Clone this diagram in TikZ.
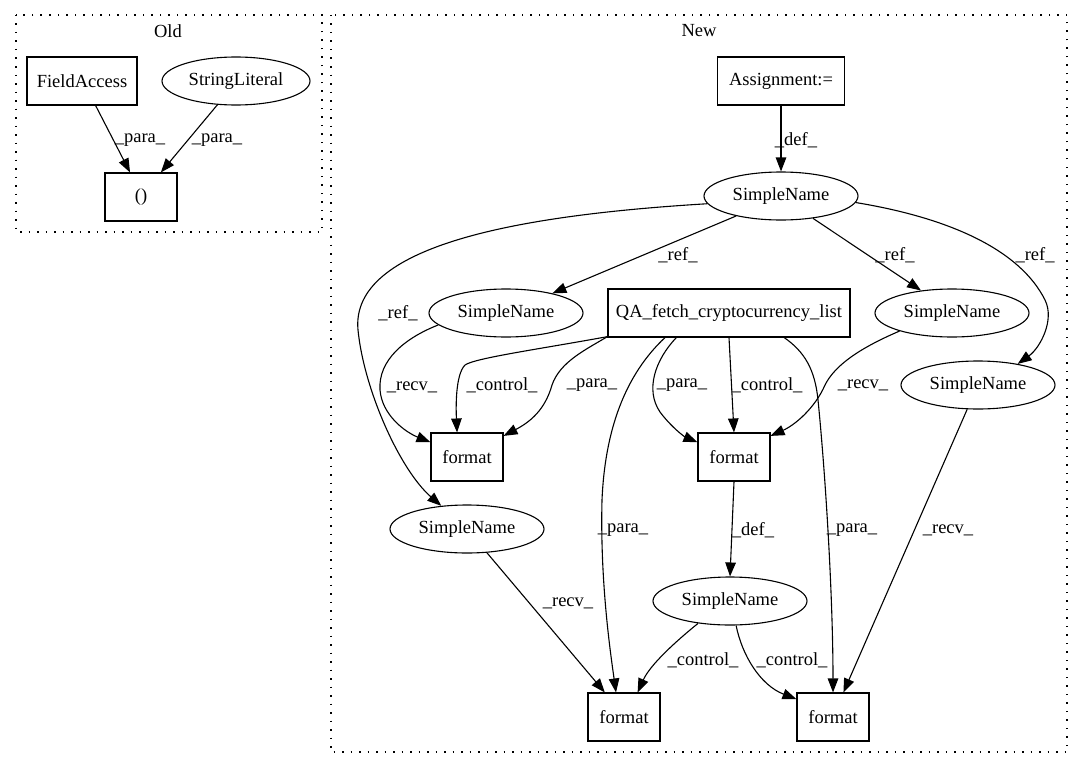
\documentclass[tikz,border=0pt]{standalone}
\usepackage{fontspec}
\setmainfont{Liberation Serif}
\usetikzlibrary{arrows.meta,shapes.geometric}
\begin{document}
\begin{tikzpicture}[x=1pt,y=-1pt,
  every node/.style={font=\fontsize{18.5}{20}\selectfont, inner sep=0},
  box/.style={draw, rectangle, minimum height=48, line width=1.1pt},
  ell/.style={draw, ellipse, minimum width=154, minimum height=48, line width=1.1pt},
  lbl/.style={},
  edge/.style={line width=1.1pt, -{Triangle[length=14pt,width=10.5pt]}},
  cluster/.style={line width=1.2pt, dash pattern=on 1.5pt off 7pt}]
\useasboundingbox (0,0) rectangle (1083,768);
% clusters
\draw[cluster] (16,15) rectangle (322,232);
\draw[cluster] (331,15) rectangle (1067,752);
\node (oldt) at (168,31) {Old};
\node (newt) at (699,31) {New};
% Old nodes
\node[box, minimum width=110] (FA) at (82,81) {FieldAccess};
\node[ell, minimum width=148] (SL) at (236,81) {StringLiteral};
\node[box, minimum width=72] (P) at (141,197) {()};
% New nodes
\node[box, minimum width=127] (AS) at (781,81) {Assignment:=};
\node[ell] (A) at (781,196) {SimpleName};
\node[ell] (B) at (506,313) {SimpleName};
\node[box, minimum width=242] (QA) at (729,313) {QA\_fetch\_cryptocurrency\_list};
\node[ell] (C) at (952,313) {SimpleName};
\node[ell] (D) at (978,385) {SimpleName};
\node[box, minimum width=72] (F1) at (467,457) {format};
\node[box, minimum width=72] (F2) at (734,457) {format};
\node[ell] (E) at (467,529) {SimpleName};
\node[ell] (F) at (730,601) {SimpleName};
\node[box, minimum width=72] (F3) at (624,717) {format};
\node[box, minimum width=72] (F4) at (833,717) {format};
% Old edges
\draw[edge] (FA.-61.6) -- (P.114.6);
\draw[edge] (SL.-128) -- (P.51.6);
\node[lbl] (l1) at (140,140) {\_para\_};
\node[lbl] (l2) at (217,140) {\_para\_};
% New edges
\draw[edge] (AS.south) -- (A.north);
\node[lbl] (l3) at (796,140) {\_def\_};
\draw[edge] (A.204.5) -- (B.23.5);
\node[lbl] (l4) at (678,255) {\_ref\_};
\draw[edge] (A.-35.7) -- (C.144);
\node[lbl] (l5) at (895,255) {\_ref\_};
\draw[edge] (A.-5.2) .. controls (950,218) and (1020,250) .. (1045,300)
  .. controls (1055,320) and (1040,348) .. (D.28.7);
\node[lbl] (l6) at (1035,255) {\_ref\_};
\draw[edge] (A.186.6) .. controls (520,215) and (350,245) .. (358,330)
  .. controls (364,390) and (400,470) .. (E.138.4);
\node[lbl] (l7) at (398,313) {\_ref\_};
\draw[edge] (B.190.8) .. controls (405,338) and (378,360) .. (380,390)
  .. controls (382,415) and (405,432) .. (F1.158.7);
\node[lbl] (l8) at (412,387) {\_recv\_};
\draw[edge] (QA.191.4) .. controls (540,349) and (475,358) .. (465,365)
  .. controls (455,375) and (456,410) .. (F1.112.6);
\node[lbl] (l9) at (502,385) {\_control\_};
\draw[edge] (QA.191.8) .. controls (585,350) and (560,362) .. (552,385)
  .. controls (545,410) and (530,422) .. (F1.30.3);
\node[lbl] (l10) at (592,385) {\_para\_};
\draw[edge] (QA.205.2) .. controls (655,360) and (645,390) .. (660,412)
  .. controls (672,428) and (685,437) .. (F2.158.7);
\node[lbl] (l11) at (682,385) {\_para\_};
\draw[edge] (QA.south) -- (F2.north);
\node[lbl] (l12) at (767,385) {\_control\_};
\draw[edge] (C.199) .. controls (860,348) and (835,365) .. (825,385)
  .. controls (815,408) and (795,425) .. (F2.30.7);
\node[lbl] (l13) at (863,385) {\_recv\_};
\draw[edge] (QA.201.5) .. controls (625,375) and (605,430) .. (602,500)
  .. controls (600,580) and (610,650) .. (F3.108.4);
\node[lbl] (l14) at (623,530) {\_para\_};
\draw[edge] (QA.-24) .. controls (805,352) and (815,370) .. (818,400)
  .. controls (826,480) and (833,600) .. (F4.north);
\node[lbl] (l15) at (852,530) {\_para\_};
\draw[edge] (D.-114.6) -- (F4.67.4);
\node[lbl] (l16) at (948,530) {\_recv\_};
\draw[edge] (F2.south) -- (F.north);
\node[lbl] (l17) at (753,530) {\_def\_};
\draw[edge] (E.-50) -- (F3.128.4);
\node[lbl] (l18) at (568,603) {\_recv\_};
\draw[edge] (F.215.7) .. controls (675,642) and (650,665) .. (F3.61.6);
\node[lbl] (l19) at (703,660) {\_control\_};
\draw[edge] (F.-76.5) .. controls (742,655) and (760,685) .. (F4.154.7);
\node[lbl] (l20) at (792,660) {\_control\_};
\end{tikzpicture}
\end{document}
